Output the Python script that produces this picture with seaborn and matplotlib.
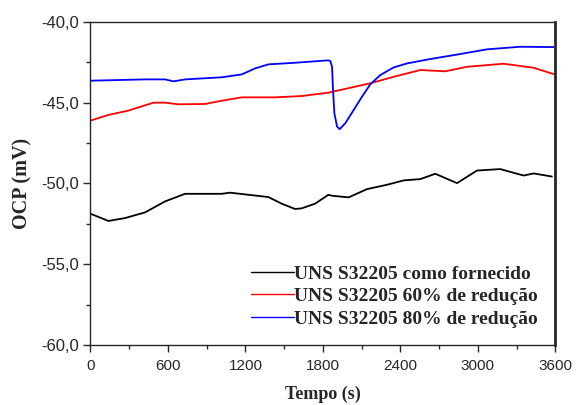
import pandas as pd
import matplotlib
matplotlib.use("Agg")
import matplotlib.pyplot as plt
import matplotlib.ticker as mticker
import seaborn as sns

# Readings of OCP (mV) against time (s), taken from the figure
t_como = [0, 139, 268, 423, 578, 733, 1017, 1081, 1223, 1378, 1481, 1585, 1636, 1740, 1843, 1871, 2000, 2142,
          2297, 2426, 2555, 2671, 2839, 2994, 3174, 3355, 3432, 3574]
v_como = [-51.87, -52.32, -52.14, -51.79, -51.11, -50.64, -50.64, -50.57, -50.70, -50.84, -51.25, -51.58, -51.54,
          -51.25, -50.70, -50.76, -50.86, -50.35, -50.08, -49.81, -49.73, -49.40, -49.98, -49.20, -49.11, -49.51,
          -49.38, -49.57]

t_60 = [0, 139, 294, 488, 578, 681, 888, 1017, 1172, 1430, 1636, 1843, 2168, 2348, 2555, 2748, 2916, 3200, 3432, 3587]
v_60 = [-46.11, -45.76, -45.49, -45.00, -45.00, -45.10, -45.08, -44.88, -44.67, -44.67, -44.59, -44.38, -43.80,
        -43.40, -42.98, -43.06, -42.78, -42.59, -42.84, -43.23]

t_80 = [0, 423, 578, 643, 733, 1017, 1172, 1275, 1378, 1585, 1843, 1858, 1871, 1879, 1889, 1910, 1930, 1974, 2039,
        2103, 2168, 2245, 2348, 2452, 2632, 2864, 3071, 3329, 3587]
v_80 = [-43.64, -43.56, -43.56, -43.68, -43.56, -43.43, -43.25, -42.88, -42.63, -42.53, -42.38, -42.43, -42.78,
        -44.22, -45.65, -46.48, -46.64, -46.27, -45.45, -44.63, -43.86, -43.29, -42.82, -42.57, -42.30, -41.99,
        -41.70, -41.54, -41.56]

labels = ["UNS S32205 como fornecido", "UNS S32205 60% de redução", "UNS S32205 80% de redução"]
colors = ["black", "red", "blue"]

df = pd.concat([
    pd.DataFrame({"t": t_como, "ocp": v_como, "amostra": labels[0]}),
    pd.DataFrame({"t": t_60, "ocp": v_60, "amostra": labels[1]}),
    pd.DataFrame({"t": t_80, "ocp": v_80, "amostra": labels[2]}),
])

sns.set_style("ticks")
plt.rcParams["font.family"] = ["Liberation Sans", "DejaVu Sans"]

fig, ax = plt.subplots(figsize=(5.76, 4.05), dpi=100)
sns.lineplot(data=df, x="t", y="ocp", hue="amostra", palette=dict(zip(labels, colors)),
             sort=False, estimator=None, linewidth=1.3, ax=ax)

ax.set_xlim(0, 3600)
ax.set_ylim(-60, -40)
ax.set_xticks(range(0, 3601, 600))
ax.xaxis.set_minor_locator(mticker.MultipleLocator(300))
ax.yaxis.set_major_locator(mticker.MultipleLocator(5))
ax.yaxis.set_minor_locator(mticker.MultipleLocator(2.5))
ax.yaxis.set_major_formatter(mticker.FuncFormatter(lambda v, p: f"{v:.1f}".replace(".", ",")))
ax.tick_params(axis="both", which="major", direction="out", length=5, width=1)
ax.tick_params(axis="x", which="major", labelsize=11, pad=5)
ax.tick_params(axis="y", which="major", labelsize=12)
ax.tick_params(axis="both", which="minor", direction="out", length=3, width=1)

serif = ["Liberation Serif", "DejaVu Serif"]
ax.set_xlabel("Tempo (s)", family=serif, weight="bold", size=13, labelpad=9)
ax.set_ylabel("OCP (mV)", family=serif, weight="bold", size=14.5, labelpad=6)

for s in ax.spines.values():
    s.set_linewidth(1)
ax.spines["right"].set_linewidth(2)

leg = ax.legend(loc="lower right", frameon=False, handlelength=2.2, handletextpad=0.0,
                labelspacing=0.24, borderaxespad=0.6, borderpad=0.3,
                prop={"family": serif, "weight": "bold", "size": 14})
for line in leg.get_lines():
    line.set_linewidth(1)

fig.subplots_adjust(left=0.157, right=0.964, top=0.946, bottom=0.148)
fig.savefig("out.png", dpi=100)
